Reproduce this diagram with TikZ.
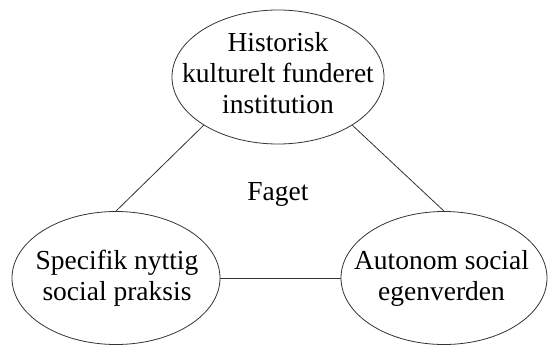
\documentclass[tikz,border=0pt]{standalone}
\usepackage{fontspec}
\setmainfont{Liberation Serif}
\usetikzlibrary{shapes.geometric}
\begin{document}
\begin{tikzpicture}[x=1pt,y=1pt,
  ell/.style={draw=black!80, line width=0.8pt, ellipse, inner sep=0pt},
  txt/.style={align=center, inner sep=0pt, font=\fontsize{27.5}{31}\selectfont},
  conn/.style={draw=black!80, line width=0.8pt}]
\useasboundingbox (0,0) rectangle (549,346);
\node[ell, minimum width=212pt, minimum height=134pt] (nT) at (278,269) {};
\node[ell, minimum width=208pt, minimum height=133pt] (nL) at (116,68) {};
\node[ell, minimum width=206pt, minimum height=133pt] (nR) at (444,68) {};
\node[txt] (tT) at (278,272.5) {Historisk\\kulturelt funderet\\institution};
\node[txt] (tL) at (117,67.5) {Specifik nyttig\\social praksis};
\node[txt] (tR) at (441.5,67.5) {Autonom social\\egenverden};
\node[txt, anchor=base] (tF) at (278,146) {Faget};
\draw[conn] (nL.north) -- (nT.213);
\draw[conn] (nR.north) -- (nT.327);
\draw[conn] (nL.east) -- (nR.west);
\end{tikzpicture}
\end{document}
